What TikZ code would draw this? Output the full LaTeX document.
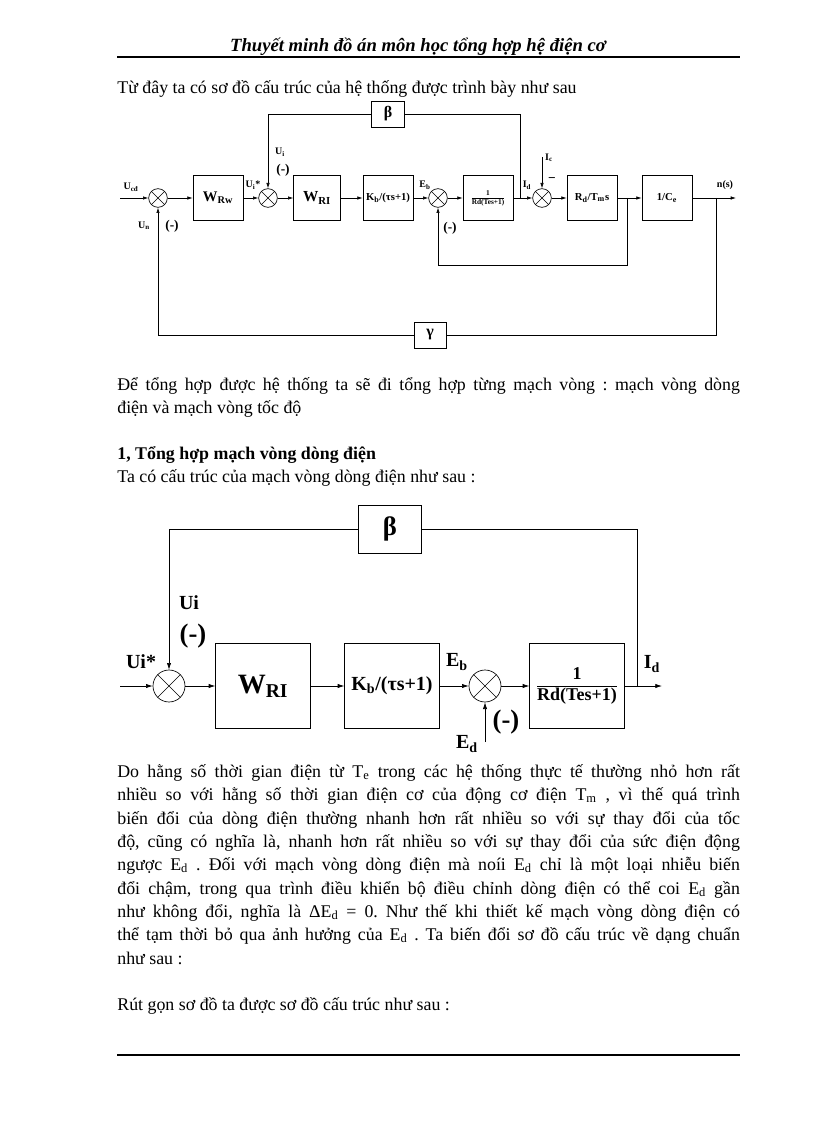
\documentclass[tikz,border=0pt]{standalone}
\usepackage{fontspec}
\setmainfont{Liberation Serif}
\usetikzlibrary{arrows.meta,positioning}
\frenchspacing

\newcommand{\jline}[1]{\makebox[467pt][s]{#1}}
\newcommand{\fracbox}[2]{\begin{tabular}{@{}c@{}}#1\\\hline #2\end{tabular}}

\begin{document}
\begin{tikzpicture}[x=0.75pt,y=-0.75pt,line width=0.5pt,
    txt/.style={anchor=base west,inner sep=0pt,font=\fontsize{13.4}{17.5}\selectfont},
    blkA/.style={draw,minimum width=37.5pt,minimum height=33.75pt,inner sep=1pt,font=\bfseries\fontsize{11}{12}\selectfont},
    blkB/.style={draw,minimum width=71pt,minimum height=63.75pt,inner sep=1pt,font=\bfseries\fontsize{15}{16}\selectfont},
    sumA/.style={circle,draw,minimum size=14pt,inner sep=0pt,
      path picture={\draw (path picture bounding box.north west) -- (path picture bounding box.south east)
        (path picture bounding box.north east) -- (path picture bounding box.south west);}},
    sumB/.style={sumA,minimum size=24pt},
    sig/.style={-{Latex[length=4pt,width=2.6pt]}},
    sigB/.style={-{Latex[length=5pt,width=3.2pt]}},
    lblA/.style={inner sep=0pt,font=\bfseries\fontsize{7.5}{8}\selectfont},
    lblB/.style={inner sep=0pt,font=\bfseries\fontsize{15}{16}\selectfont},
    negA/.style={inner sep=0pt,font=\bfseries\fontsize{10}{11}\selectfont},
    negB/.style={inner sep=0pt,font=\bfseries\fontsize{20}{22}\selectfont}]
  \useasboundingbox[fill=white] (0,0) rectangle (816,1123);

  % header and footer rules
  \node[anchor=base,inner sep=0pt,font=\bfseries\itshape\fontsize{14}{16}\selectfont] (hdr) at (418,52)
    {Thuyết minh đồ án môn học tổng hợp hệ điện cơ};
  \draw[line width=0.8pt] (117,57) -- (740,57);
  \draw[line width=0.8pt] (117,1055) -- (740,1055);

  % text above and between the diagrams
  \node[txt] (t1) at (117,94) {Từ đây ta có sơ đồ cấu trúc của hệ thống được trình bày như sau};
  \node[txt] (t2) at (117,390) {\jline{Để tổng hợp được hệ thống ta sẽ đi tổng hợp từng mạch vòng : mạch vòng dòng}};
  \node[txt] (t3) at (117,413) {điện và mạch vòng tốc độ};
  \node[txt,font=\bfseries\fontsize{13.4}{17.5}\selectfont] (t4) at (117,459) {1, Tổng hợp mạch vòng dòng điện};
  \node[txt] (t5) at (117,482) {Ta có cấu trúc của mạch vòng dòng điện như sau :};

  % first diagram: whole system
  \node[sumA] (a1) at (158,198) {};
  \node[blkA] (wrw) at (218,198) {W\textsubscript{Rw}};
  \node[sumA] (a2) at (268,198) {};
  \node[blkA,minimum width=35pt,font=\bfseries\fontsize{11.5}{12}\selectfont] (wri) at (317,198) {W\textsubscript{RI}};
  \node[blkA,font=\bfseries\fontsize{8}{9}\selectfont] (kbA) at (388,198) {K\textsubscript{b}/(τs+1)};
  \node[sumA] (a3) at (438,198) {};
  \node[blkA,font=\bfseries\fontsize{5.5}{6.5}\selectfont] (gA) at (488,198) {\fracbox{1}{Rd(Tes+1)}};
  \node[sumA] (a4) at (542,198) {};
  \node[blkA,font=\bfseries\fontsize{8}{9}\selectfont] (rdA) at (592,198) {R\textsubscript{d}/T\textsubscript{m}s};
  \node[blkA,font=\bfseries\fontsize{8}{9}\selectfont] (ceA) at (667,198) {1/C\textsubscript{e}};
  \node[draw,minimum width=24.5pt,minimum height=19.5pt,inner sep=0pt,font=\bfseries\fontsize{12}{13}\selectfont] (betaA) at (388,114) {β};
  \node[draw,minimum width=24pt,minimum height=19.5pt,inner sep=0pt,font=\bfseries\fontsize{12}{13}\selectfont] (gamA) at (430,335) {γ};

  \coordinate (inA) at (120,198);
  \coordinate (idA) at (520,198);
  \coordinate (icA) at (542,157);
  \coordinate (brA) at (627,198);
  \coordinate (nA) at (716,198);
  \coordinate (outA) at (736,198);

  \draw[sig] (inA) -- (a1);
  \draw[sig] (a1) -- (wrw);
  \draw[sig] (wrw) -- (a2);
  \draw[sig] (a2) -- (wri);
  \draw[sig] (wri) -- (kbA);
  \draw[sig] (kbA) -- (a3);
  \draw[sig] (a3) -- (gA);
  \draw[sig] (gA) -- (a4);
  \draw[sig] (a4) -- (rdA);
  \draw[sig] (rdA) -- (ceA);
  \draw[sig] (ceA) -- (outA);
  \draw[sig] (icA) -- (a4.north);
  \draw (idA) |- (betaA.east);
  \draw[sig] (betaA.west) -| (a2.north);
  \draw[sig] (brA) -- ++(0,67) -| (a3.south);
  \draw (nA) |- (gamA.east);
  \draw[sig] (gamA.west) -| (a1.south);

  \node[lblA] (ucd) at (131,187) {U\textsubscript{cđ}};
  \node[lblA] (un) at (144,226) {U\textsubscript{n}};
  \node[negA] (nega1) at (172,226) {(-)};
  \node[lblA] (uisA) at (253,185) {U\textsubscript{i}*};
  \node[lblA] (uiA) at (280,152) {U\textsubscript{i}};
  \node[negA] (nega2) at (283,170) {(-)};
  \node[lblA] (ebA) at (425,185) {E\textsubscript{b}};
  \node[negA] (nega3) at (450,228) {(-)};
  \node[lblA] (idlA) at (527,185) {I\textsubscript{d}};
  \node[lblA] (iclA) at (549,158) {I\textsubscript{c}};
  \node[negA] (nega4) at (552,180) {−};
  \node[lblA] (nsA) at (725,185) {n(s)};

  % second diagram: current loop
  \node[sumB] (b1) at (169,686) {};
  \node[blkB,font=\bfseries\fontsize{21}{22}\selectfont] (wriB) at (263,686) {W\textsubscript{RI}};
  \node[blkB] (kbB) at (392,686) {K\textsubscript{b}/(τs+1)};
  \node[sumB] (b2) at (485,686) {};
  \node[blkB,font=\bfseries\fontsize{13.5}{15}\selectfont] (gB) at (577,686) {\fracbox{1}{Rd(Tes+1)}};
  \node[draw,minimum width=47pt,minimum height=36pt,inner sep=0pt,font=\bfseries\fontsize{20}{22}\selectfont] (betaB) at (390,529) {β};

  \coordinate (inB) at (120,686);
  \coordinate (idB) at (637,686);
  \coordinate (outB) at (662,686);
  \coordinate (edB) at (485,742);

  \draw[sigB] (inB) -- (b1);
  \draw[sigB] (b1) -- (wriB);
  \draw[sigB] (wriB) -- (kbB);
  \draw[sigB] (kbB) -- (b2);
  \draw[sigB] (b2) -- (gB);
  \draw[sigB] (gB) -- (outB);
  \draw (idB) |- (betaB.east);
  \draw[sigB] (betaB.west) -| (b1.north);
  \draw[sigB] (edB) -- (b2.south);

  \node[lblB] (uisB) at (141,662) {Ui*};
  \node[lblB] (uiB) at (189,603) {Ui};
  \node[negB] (negb1) at (193,636) {(-)};
  \node[lblB] (ebB) at (457,662) {E\textsubscript{b}};
  \node[lblB] (edlB) at (467,744) {E\textsubscript{d}};
  \node[negB] (negb2) at (506,722) {(-)};
  \node[lblB] (idlB) at (652,664) {I\textsubscript{d}};

  % text below the second diagram
  \node[txt] (t6) at (117,777) {\jline{Do hằng số thời gian điện từ T\textsubscript{e} trong các hệ thống thực tế thường nhỏ hơn rất}};
  \node[txt] (t7) at (117,800) {\jline{nhiều so với hằng số thời gian điện cơ của động cơ điện T\textsubscript{m} , vì thế quá trình}};
  \node[txt] (t8) at (117,824) {\jline{biến đổi của dòng điện thường nhanh hơn rất nhiều so với sự thay đổi của tốc}};
  \node[txt] (t9) at (117,847) {\jline{độ, cũng có nghĩa là, nhanh hơn rất nhiều so với sự thay đổi của sức điện động}};
  \node[txt] (t10) at (117,870) {\jline{ngược E\textsubscript{d} . Đối với mạch vòng dòng điện mà noíi E\textsubscript{d} chỉ là một loại nhiễu biến}};
  \node[txt] (t11) at (117,894) {\jline{đổi chậm, trong qua trình điều khiển bộ điều chỉnh dòng điện có thể coi E\textsubscript{d} gần}};
  \node[txt] (t12) at (117,917) {\jline{như không đổi, nghĩa là ΔE\textsubscript{d} = 0. Như thế khi thiết kế mạch vòng dòng điện có}};
  \node[txt] (t13) at (117,940) {\jline{thể tạm thời bỏ qua ảnh hưởng của E\textsubscript{d} . Ta biến đổi sơ đồ cấu trúc về dạng chuẩn}};
  \node[txt] (t14) at (117,964) {như sau :};
  \node[txt] (t15) at (117,1010) {Rút gọn sơ đồ ta được sơ đồ cấu trúc như sau :};
\end{tikzpicture}
\end{document}
